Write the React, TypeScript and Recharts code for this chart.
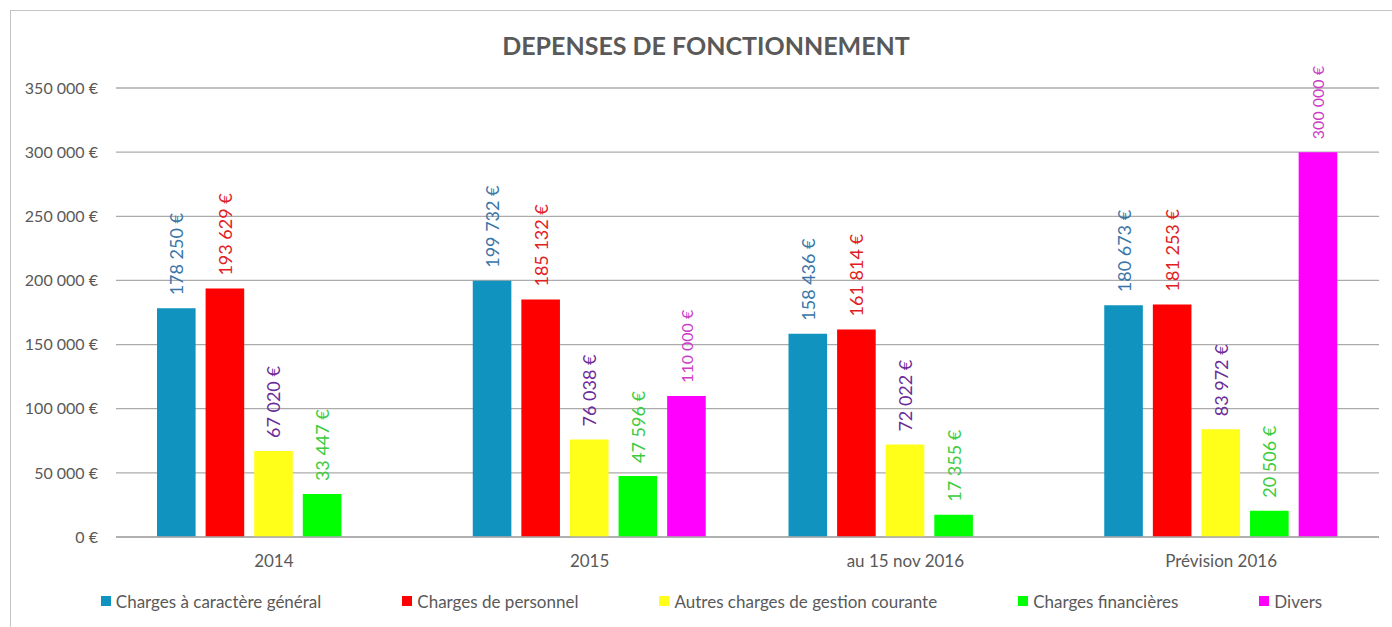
import React from 'react';
import { BarChart, Bar, XAxis, YAxis, CartesianGrid, LabelList, Legend } from 'recharts';

const categories = ['2014', '2015', 'au 15 nov 2016', 'Prévision 2016'];
const chargesGenerales = [178250, 199732, 158436, 180673];
const chargesPersonnel = [193629, 185132, 161814, 181253];
const autresCharges = [67020, 76038, 72022, 83972];
const chargesFinancieres = [33447, 47596, 17355, 20506];
const divers: (number | null)[] = [null, 110000, null, 300000];
const yTicks = [0, 50000, 100000, 150000, 200000, 250000, 300000, 350000];

const seriesNames = [
  'Charges à caractère général',
  'Charges de personnel',
  'Autres charges de gestion courante',
  'Charges financières',
  'Divers',
];
const seriesKeys = ['generales', 'personnel', 'autres', 'financieres', 'divers'];
const seriesColors = ['#1193BF', '#FF0000', '#FFFF1A', '#00FF00', '#FF00FF'];
const labelColors = ['#3A75A8', '#E0201E', '#6A2C9A', '#3CCB3C', '#CC3CC8'];
const labelSizes = [18, 18, 18, 18, 16];

const data = categories.map((c, i) => ({
  name: c,
  generales: chargesGenerales[i],
  personnel: chargesPersonnel[i],
  autres: autresCharges[i],
  financieres: chargesFinancieres[i],
  divers: divers[i],
}));

const FONT = 'Lato, "Open Sans", sans-serif';
const TEXT_GRAY = '#595959';

const fmt = (v: number) => {
  const s = Math.round(v).toString();
  const parts: string[] = [];
  for (let i = s.length; i > 0; i -= 3) parts.unshift(s.substring(Math.max(0, i - 3), i));
  return parts.join(' ') + ' €';
};

const makeLabel = (color: string, size: number) => (props: any) => {
  const { x, y, width, value } = props;
  if (value === null || value === undefined) return null;
  const cx = Number(x) + Number(width) / 2;
  const ty = Number(y) - 13;
  return (
    <text
      x={cx}
      y={ty}
      transform={`rotate(-90 ${cx} ${ty})`}
      textAnchor="start"
      dominantBaseline="central"
      fill={color}
      fontSize={size}
      fontFamily={FONT}
    >
      {fmt(Number(value))}
    </text>
  );
};

const renderLegend = () => (
  <div
    style={{
      display: 'flex',
      justifyContent: 'center',
      alignItems: 'center',
      height: 30,
      gap: 81,
      paddingLeft: 44,
      fontFamily: FONT,
      fontSize: 17,
      color: TEXT_GRAY,
    }}
  >
    {seriesNames.map((n, i) => (
      <div key={n} style={{ display: 'flex', alignItems: 'center', whiteSpace: 'nowrap' }}>
        <span style={{ display: 'inline-block', width: 10, height: 10, background: seriesColors[i], marginRight: 5 }} />
        <span>{n}</span>
      </div>
    ))}
  </div>
);

export default function App() {
  return (
    <div style={{ position: 'fixed', left: 0, top: 0, width: 1392, height: 627, overflow: 'hidden', background: '#fff' }}>
      <div
        style={{
          position: 'absolute',
          left: 10,
          top: 10,
          width: 1500,
          height: 800,
          border: '1.5px solid #C4C4C4',
          boxSizing: 'border-box',
        }}
      />
      <div
        style={{
          position: 'absolute',
          left: 706,
          top: 30,
          transform: 'translateX(-50%)',
          fontFamily: FONT,
          fontWeight: 700,
          fontSize: 25,
          lineHeight: '30px',
          color: TEXT_GRAY,
          whiteSpace: 'nowrap',
        }}
      >
        DEPENSES DE FONCTIONNEMENT
      </div>
      <BarChart
        width={1392}
        height={627}
        data={data}
        margin={{ top: 88, right: 13, left: 0, bottom: 11 }}
        barGap={10}
        barSize={38.6}
      >
        <CartesianGrid vertical={false} stroke="#ABABAB" strokeWidth={1.3} />
        <XAxis
          dataKey="name"
          height={49}
          tickLine={false}
          axisLine={{ stroke: '#ABABAB', strokeWidth: 1.3 }}
          tickSize={6}
          tickMargin={12}
          tick={{ fill: TEXT_GRAY, fontSize: 17, fontFamily: FONT }}
          interval={0}
        />
        <YAxis
          width={116}
          domain={[0, 350000]}
          ticks={yTicks}
          tickFormatter={fmt}
          tickLine={false}
          axisLine={false}
          tickSize={6}
          tickMargin={12}
          tick={{ fill: TEXT_GRAY, fontSize: 16, fontFamily: FONT }}
        />
        <Legend verticalAlign="bottom" content={renderLegend} />
        {seriesKeys.map((k, i) => (
          <Bar key={k} dataKey={k} name={seriesNames[i]} fill={seriesColors[i]} isAnimationActive={false}>
            <LabelList dataKey={k} content={makeLabel(labelColors[i], labelSizes[i])} />
          </Bar>
        ))}
      </BarChart>
    </div>
  );
}
